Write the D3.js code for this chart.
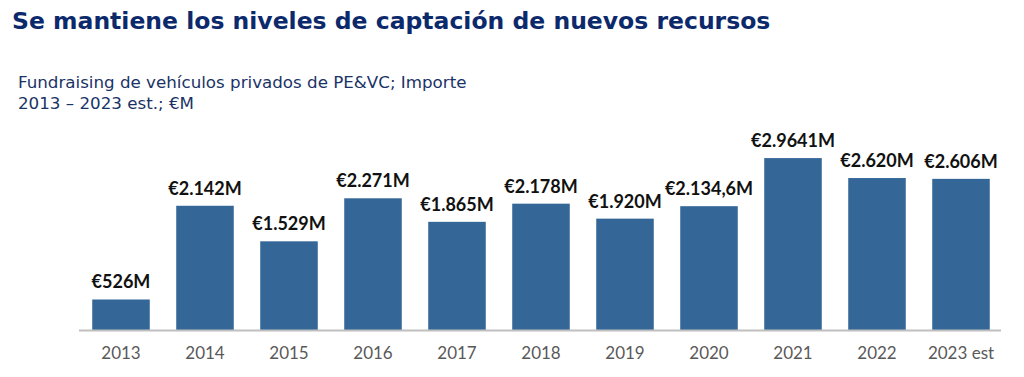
<!DOCTYPE html>
<html>
<head>
<meta charset="utf-8">
<script src="https://cdn.jsdelivr.net/npm/d3@7"></script>
<style>
  body { margin: 0; background: #fff; }
</style>
</head>
<body>
<svg class="bar-chart"></svg>
<script>
var years = ["2013", "2014", "2015", "2016", "2017", "2018", "2019", "2020", "2021", "2022", "2023 est"];
var amounts = [526, 2142, 1529, 2271, 1865, 2178, 1920, 2134.6, 2964.1, 2620, 2606];
var valueLabels = ["€526M", "€2.142M", "€1.529M", "€2.271M", "€1.865M", "€2.178M",
    "€1.920M", "€2.134,6M", "€2.9641M", "€2.620M", "€2.606M"];

var svgWidth = 1024, svgHeight = 377;

var svg = d3.select('svg.bar-chart')
    .attr("width", svgWidth)
    .attr("height", svgHeight),
    baseY = 330;

var xScale = d3.scaleBand().domain(years).range([79, 1003]).paddingInner(0.315).paddingOuter(0.1575),
    yScale = d3.scaleLinear().domain([0, 3000]).range([baseY, 156]);

// Title
svg.append('text')
    .attr('x', 12)
    .attr('y', 29)
    .style('font-family', 'DejaVu Sans')
    .style('font-weight', 'bold')
    .style('font-size', '23.5px')
    .attr('fill', '#0c2a6b')
    .text('Se mantiene los niveles de captación de nuevos recursos');

// subtitle
svg.append('text')
    .attr('x', 18)
    .attr('y', 88)
    .style('font-family', 'DejaVu Sans')
    .style('font-size', '16.7px')
    .attr('fill', '#1a3366')
    .text('Fundraising de vehículos privados de PE&VC; Importe');

svg.append('text')
    .attr('x', 18)
    .attr('y', 109)
    .style('font-family', 'DejaVu Sans')
    .style('font-size', '16.7px')
    .attr('fill', '#1a3366')
    .text('2013 – 2023 est.; €M');

svg.selectAll(".bar")
    .data(amounts)
    .enter()
    .append("rect")
    .attr("class", "bar")
    .attr("x", function (d, i) { return xScale(years[i]); })
    .attr("y", function (d) { return yScale(d); })
    .attr("width", xScale.bandwidth())
    .attr("height", function (d) { return baseY - yScale(d); })
    .attr('fill', '#346798');

// baseline
svg.append("line")
    .attr("x1", 79).attr("x2", 1001)
    .attr("y1", baseY + 0.5).attr("y2", baseY + 0.5)
    .attr("stroke", "#bfbfbf")
    .attr("stroke-width", 2);

var xAxis = svg.append("g")
    .attr("transform", "translate(0," + baseY + ")")
    .call(d3.axisBottom(xScale).tickSize(0).tickPadding(17));
xAxis.select(".domain").remove();
xAxis.selectAll("text")
    .style('font-family', 'Lato')
    .style('font-size', '17px')
    .attr('fill', '#595959');

svg.selectAll('.val')
    .data(amounts)
    .enter()
    .append('text')
    .attr('class', 'val')
    .attr('x', function (d, i) { return xScale(years[i]) + xScale.bandwidth() / 2; })
    .attr('y', function (d) { return yScale(d) - 11; })
    .attr('text-anchor', 'middle')
    .style('font-family', 'Lato')
    .style('font-weight', 'bold')
    .style('font-size', '18px')
    .attr('fill', '#111')
    .text(function (d, i) { return valueLabels[i]; });
</script>
</body>
</html>
